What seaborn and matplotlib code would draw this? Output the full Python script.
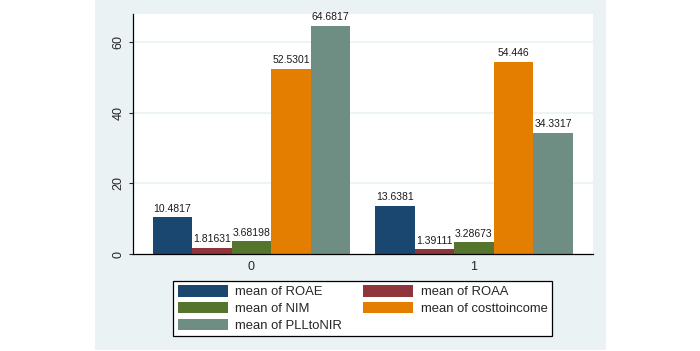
## Grouped bar chart of means by group (Stata-like look)
import pandas as pd
import matplotlib
matplotlib.use("Agg")
import matplotlib.pyplot as plt
from matplotlib.patches import Patch, Rectangle
import seaborn as sns

# data
groups = ["0", "1"]
variables = ["ROAE", "ROAA", "NIM", "costtoincome", "PLLtoNIR"]
roae = [10.4817, 13.6381]
roaa = [1.81631, 1.39111]
nim = [3.68198, 3.28673]
costtoincome = [52.5301, 54.446]
plltonir = [64.6817, 34.3317]
yticks = [0, 20, 40, 60]

# stata s2color palette
colors = ["#1A476F", "#90353B", "#55752F", "#E37E00", "#6E8E84"]
bg = "#EAF2F3"

rows = []
for var, vals in zip(variables, [roae, roaa, nim, costtoincome, plltonir]):
    for g, v in zip(groups, vals):
        rows.append({"group": g, "var": var, "value": v})
df = pd.DataFrame(rows)

sns.set_style("white")
plt.rcParams["font.family"] = ["Liberation Sans", "DejaVu Sans"]

fig = plt.figure(figsize=(7, 3.51), dpi=100, facecolor="white")
# grey-blue panel behind the plot region
fig.patches.append(Rectangle((95 / 700, 1 / 351), 511 / 700, 350 / 351,
                             transform=fig.transFigure, facecolor=bg,
                             edgecolor="none", zorder=-10))
ax = fig.add_axes([132.7 / 700, 1 - 254 / 351, 460 / 700, 240 / 351])

sns.barplot(data=df, x="group", y="value", hue="var", order=groups,
            hue_order=variables, palette=colors, width=0.888, gap=0,
            saturation=1, legend=False, ax=ax, errorbar=None,
            edgecolor="none", linewidth=0)

for cont in ax.containers:
    ax.bar_label(cont, labels=[f"{b.get_height():g}" for b in cont],
                 padding=2.5, fontsize=7.5, color="#1a1a1a")

ax.set_xlim(-0.534, 1.534)
ax.set_ylim(0, 68)
ax.set_yticks(yticks)
ax.set_yticklabels([str(t) for t in yticks], rotation=90, va="center",
                   fontsize=9)
ax.set_xlabel("")
ax.set_ylabel("")
ax.tick_params(axis="x", length=0, pad=5, labelsize=9)
ax.tick_params(axis="y", length=3, width=0.8, pad=3, left=True)
ax.set_facecolor("white")
for y in yticks[1:]:
    ax.axhline(y, color=bg, lw=1.2, zorder=0)
for s in ["top", "right"]:
    ax.spines[s].set_visible(False)
for s in ["left", "bottom"]:
    ax.spines[s].set_color("black")
    ax.spines[s].set_linewidth(0.9)

# legend filled row-wise like stata: reorder for column-wise filling
order = [0, 2, 4, 1, 3]
handles = [Patch(facecolor=colors[i], edgecolor="none") for i in order]
labels = ["mean of " + variables[i] for i in order]
leg = fig.legend(handles, labels, ncol=2, loc="upper center",
                 bbox_to_anchor=(362.8 / 700, 1 - 274 / 351),
                 fontsize=9.4, frameon=True, fancybox=False,
                 edgecolor="black", facecolor="white", framealpha=1,
                 handlelength=3.8, handleheight=0.97, handletextpad=0.6,
                 columnspacing=1.6, labelspacing=0.27, borderpad=0.35)
leg.get_frame().set_linewidth(0.9)

plt.savefig("out.png", dpi=100, facecolor="white")
